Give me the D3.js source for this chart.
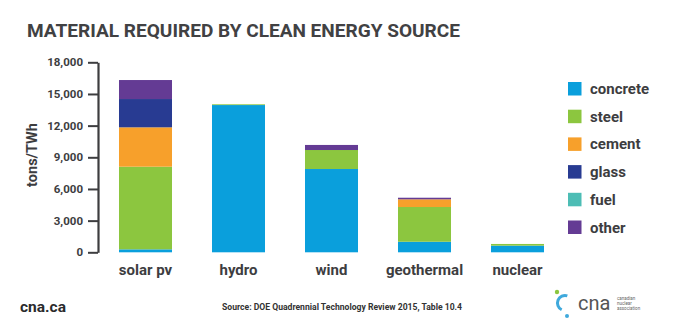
<!DOCTYPE html>
<html>
<head>
<meta charset="utf-8">
<script src="https://cdn.jsdelivr.net/npm/d3@7"></script>
<style>
  body { margin: 0; background: #ffffff; }
  svg { display: block; font-family: Roboto, "DejaVu Sans", sans-serif; }
</style>
</head>
<body>
<svg id="chart" width="680" height="330"></svg>
<script>
// Material intensity per energy source, tons per TWh
const sources   = ["solar pv", "hydro", "wind", "geothermal", "nuclear"];
const materials = ["concrete", "steel", "cement", "glass", "fuel", "other"];
const concrete  = [280, 13950, 7890, 1000, 630];
const steel     = [7830, 70, 1800, 3290, 160];
const cement    = [3730, 0, 0, 730, 0];
const glass     = [2680, 0, 0, 0, 0];
const fuel      = [0, 0, 0, 0, 0];
const other     = [1800, 0, 480, 150, 0];
const yTicks    = [0, 3000, 6000, 9000, 12000, 15000, 18000];
const colors    = ["#0a9fdc", "#8cc63f", "#f7a02b", "#283b92", "#4dbdb5", "#643b94"];

const seriesValues = [concrete, steel, cement, glass, fuel, other];
const rows = sources.map((s, i) => {
  const r = { source: s };
  materials.forEach((m, j) => { r[m] = seriesValues[j][i]; });
  return r;
});

const svg = d3.select("#chart");
const ink = "#3d3d3f";

// Title
svg.append("text")
  .attr("x", 27).attr("y", 36.5)
  .attr("font-size", 17.5).attr("font-weight", 700)
  .attr("fill", "#414143")
  .attr("textLength", 433).attr("lengthAdjust", "spacingAndGlyphs")
  .text("MATERIAL REQUIRED BY CLEAN ENERGY SOURCE");

const x = d3.scaleBand().domain(sources).range([99, 564])
  .paddingInner(0.43).paddingOuter(0.215);
const y = d3.scaleLinear().domain([0, 18000]).range([252.3, 62.3]);
const color = d3.scaleOrdinal().domain(materials).range(colors);

const stacked = d3.stack().keys(materials)(rows);

// Bars
svg.append("g").selectAll("g").data(stacked).join("g")
  .attr("fill", d => color(d.key))
  .selectAll("rect").data(d => d).join("rect")
  .attr("x", d => x(d.data.source))
  .attr("width", x.bandwidth())
  .attr("y", d => y(d[1]))
  .attr("height", d => y(d[0]) - y(d[1]));

// Y axis
const yAxis = svg.append("g")
  .attr("transform", "translate(98,0)")
  .call(d3.axisLeft(y).tickValues(yTicks).tickFormat(d3.format(",")).tickSize(10).tickSizeOuter(0));
yAxis.select(".domain").attr("stroke", ink).attr("stroke-width", 2.2);
yAxis.selectAll(".tick line").attr("stroke", ink).attr("stroke-width", 2);
yAxis.selectAll(".tick text")
  .attr("x", -15)
  .attr("font-size", 11.5).attr("font-weight", 700)
  .attr("fill", ink).attr("font-family", "Roboto, sans-serif");

svg.append("text")
  .attr("transform", "translate(37,155) rotate(-90)")
  .attr("text-anchor", "middle")
  .attr("font-size", 14.5).attr("font-weight", 700).attr("fill", ink)
  .text("tons/TWh");

// Category labels
const xAxis = svg.append("g")
  .attr("transform", "translate(0,253)")
  .call(d3.axisBottom(x).tickSize(0));
xAxis.select(".domain").remove();
xAxis.selectAll(".tick text")
  .attr("dy", "1.25em")
  .attr("font-size", 15).attr("font-weight", 700)
  .attr("fill", ink).attr("font-family", "Roboto, sans-serif");

// Legend
const legend = svg.append("g").selectAll("g").data(materials).join("g")
  .attr("transform", (d, i) => `translate(568,${82 + i * 27.7})`);
legend.append("rect")
  .attr("width", 13.5).attr("height", 13.5)
  .attr("fill", d => color(d));
legend.append("text")
  .attr("x", 22).attr("y", 12)
  .attr("font-size", 15).attr("font-weight", 700).attr("fill", ink)
  .text(d => d);

// Footer
svg.append("text")
  .attr("x", 20).attr("y", 312)
  .attr("font-size", 15.5).attr("font-weight", 700).attr("fill", "#2a2a2c")
  .text("cna.ca");
svg.append("text")
  .attr("x", 222).attr("y", 310)
  .attr("font-size", 9).attr("font-weight", 700).attr("fill", "#333")
  .attr("textLength", 240).attr("lengthAdjust", "spacingAndGlyphs")
  .text("Source: DOE Quadrennial Technology Review 2015, Table 10.4");

// Association mark
const logo = svg.append("g").attr("transform", "translate(0,0)");
logo.append("path")
  .attr("d", d3.arc()({ innerRadius: 6, outerRadius: 9, startAngle: 3.6, endAngle: 6.6 }))
  .attr("transform", "translate(565,303)")
  .attr("fill", "#3fa9dc");
logo.append("circle").attr("cx", 557).attr("cy", 292).attr("r", 2.2).attr("fill", "#8cc63f");
logo.append("circle").attr("cx", 567).attr("cy", 316).attr("r", 2).attr("fill", "#3fa9dc");
logo.append("text")
  .attr("x", 578).attr("y", 310)
  .attr("font-size", 20).attr("fill", "#555")
  .text("cna");
logo.append("text")
  .attr("x", 617).attr("y", 300)
  .attr("font-size", 4.5).attr("fill", "#666")
  .text("canadian");
logo.append("text")
  .attr("x", 617).attr("y", 305)
  .attr("font-size", 4.5).attr("fill", "#666")
  .text("nuclear");
logo.append("text")
  .attr("x", 617).attr("y", 310)
  .attr("font-size", 4.5).attr("fill", "#666")
  .text("association");
</script>
</body>
</html>
